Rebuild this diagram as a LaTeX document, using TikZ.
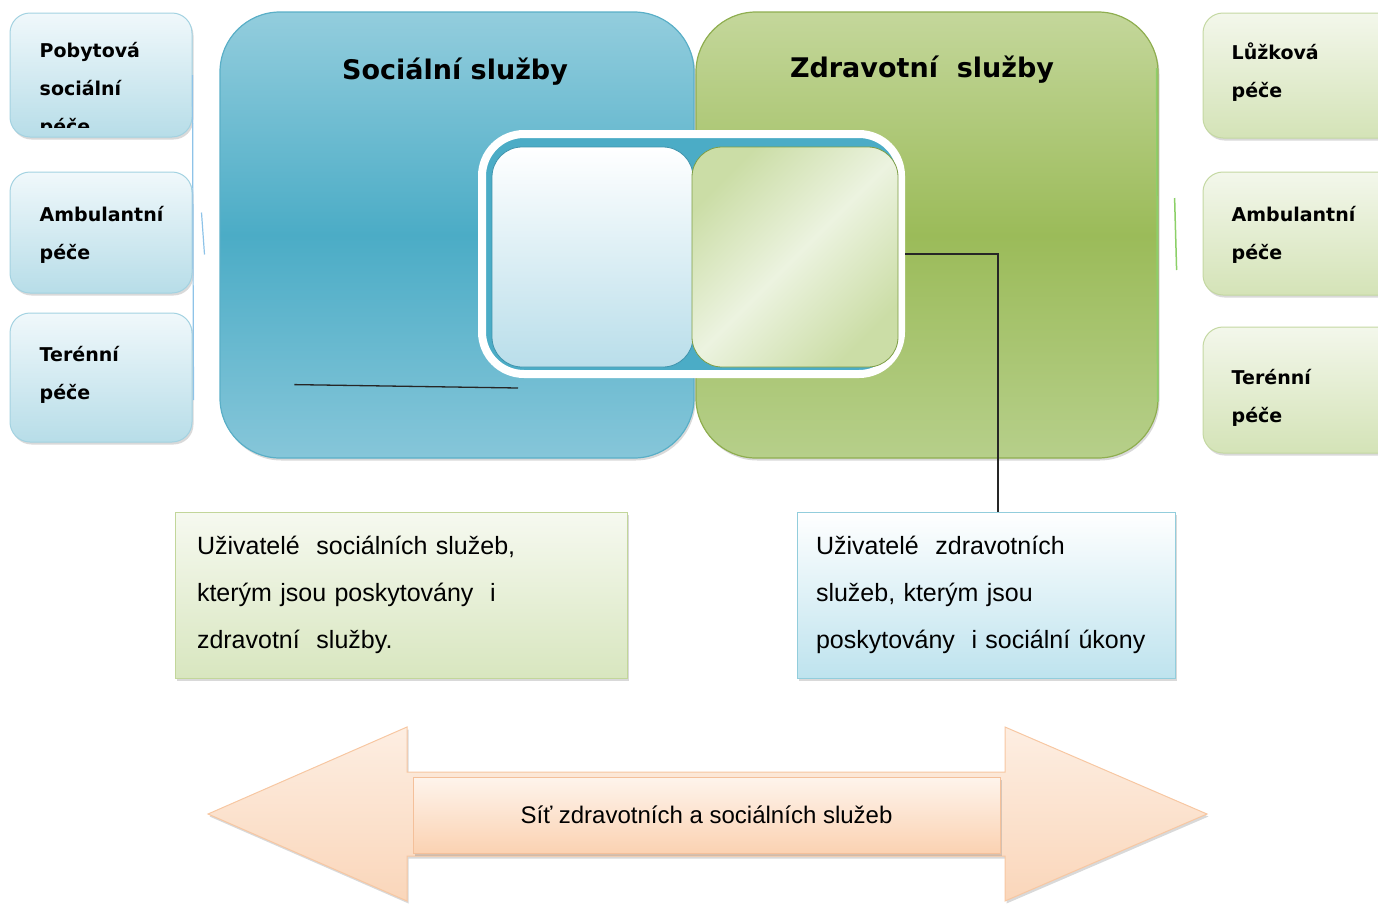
\documentclass[tikz,border=0pt]{standalone}
\usepackage{fontspec}
\setmainfont{Liberation Sans}
\newfontfamily\headfont{DejaVu Sans}
\usepackage{tikz}
\usetikzlibrary{shadows,calc,positioning}
\usepackage{xcolor}
\newcommand{\sidew}{182pt}
\definecolor{soctop}{HTML}{93CDDD}
\definecolor{socblue}{HTML}{4BACC6}
\definecolor{socbot}{HTML}{86C6D9}
\definecolor{socedge}{HTML}{5AAFC7}
\definecolor{zdrtop}{HTML}{C4D79B}
\definecolor{zdrgreen}{HTML}{9BBB59}
\definecolor{zdrbot}{HTML}{B6CF8A}
\definecolor{zdredge}{HTML}{8FAE50}
\definecolor{lsidetop}{HTML}{F0F8FB}
\definecolor{lsidebot}{HTML}{B7DDE8}
\definecolor{lsideedge}{HTML}{A3D2E1}
\definecolor{rsidetop}{HTML}{F3F7EB}
\definecolor{rsidebot}{HTML}{D4E3B7}
\definecolor{rsideedge}{HTML}{C4D8A2}
\definecolor{lintop}{HTML}{FFFFFF}
\definecolor{linbot}{HTML}{B9DEEA}
\definecolor{linedge}{HTML}{3E93AC}
\definecolor{rindark}{HTML}{CBDDA6}
\definecolor{rinlight}{HTML}{ECF3E0}
\definecolor{rinedge}{HTML}{7E9E45}
\definecolor{usrsoctop}{HTML}{F6F9F0}
\definecolor{usrsocbot}{HTML}{D8E6BF}
\definecolor{usrsocedge}{HTML}{C2D69A}
\definecolor{usrzdrbot}{HTML}{BEE3EE}
\definecolor{usrzdredge}{HTML}{92CDDC}
\definecolor{peachtop}{HTML}{FDEEE2}
\definecolor{peachbot}{HTML}{FAD6BA}
\definecolor{peachedge}{HTML}{F7C7A2}
\definecolor{nettop}{HTML}{FEF4EC}
\definecolor{netbot}{HTML}{FBD2B2}
\definecolor{netedge}{HTML}{F4C09A}
\definecolor{tickblue}{HTML}{8EC3E8}
\definecolor{tickgreen}{HTML}{8CD068}
\tikzset{
    shadsty/.style={drop shadow={opacity=0.3,shadow xshift=1.5pt,shadow yshift=-2.5pt}},
    socsty/.style={rectangle,rounded corners=60pt,draw=socedge,line width=1.2pt,minimum width=474pt,minimum height=446pt,shadsty,top color=soctop,bottom color=socbot,middle color=socblue},
    zdrsty/.style={rectangle,rounded corners=60pt,draw=zdredge,line width=1.2pt,minimum width=462pt,minimum height=446pt,shadsty,top color=zdrtop,bottom color=zdrbot,middle color=zdrgreen},
    titlesty/.style={font=\headfont\bfseries\fontsize{27}{32}\selectfont,inner sep=0pt},
    lsidesty/.style={rectangle,rounded corners=20pt,draw=lsideedge,line width=1pt,minimum width=\sidew,shadsty,top color=lsidetop,bottom color=lsidebot},
    rsidesty/.style={rectangle,rounded corners=20pt,draw=rsideedge,line width=1pt,minimum width=200pt,shadsty,top color=rsidetop,bottom color=rsidebot},
    sidetxtsty/.style={anchor=north west,align=left,inner sep=0pt,font=\headfont\bfseries\fontsize{19}{38}\selectfont},
    framesty/.style={rectangle,rounded corners=42pt,draw=white,line width=8pt,fill=socblue,minimum width=419pt,minimum height=240pt,drop shadow={opacity=0.25,shadow xshift=1pt,shadow yshift=-2pt}},
    linsty/.style={rectangle,rounded corners=30pt,draw=linedge,line width=0.8pt,minimum width=201pt,minimum height=220pt,top color=lintop,bottom color=linbot},
    rinsty/.style={rectangle,rounded corners=30pt,draw=rinedge,line width=0.8pt,minimum width=206pt,minimum height=220pt,top color=rindark,bottom color=rindark,middle color=rinlight,shading angle=45},
    usrsty/.style={rectangle,inner sep=0pt,align=left,line width=1pt,minimum height=166pt,font=\fontsize{25}{47}\selectfont,shadsty},
    usrsocsty/.style={usrsty,draw=usrsocedge,minimum width=452pt,text width=408pt,top color=usrsoctop,bottom color=usrsocbot},
    usrzdrsty/.style={usrsty,draw=usrzdredge,minimum width=378pt,text width=340pt,top color=white,bottom color=usrzdrbot},
    arrsty/.style={draw=peachedge,line width=1pt,top color=peachtop,bottom color=peachbot,shadsty},
    netsty/.style={rectangle,draw=netedge,line width=1pt,minimum width=587pt,minimum height=76pt,font=\fontsize{24}{28}\selectfont,top color=nettop,bottom color=netbot,shadsty},
    linksty/.style={draw=black!85,line width=1.3pt},
    lticksty/.style={draw=tickblue,line width=1.2pt},
    rticksty/.style={draw=tickgreen,line width=1.5pt},
}

\begin{document}
\begin{tikzpicture}[x=1pt,y=-1pt]
  \useasboundingbox (0,0) rectangle (1378,908);

  \node[zdrsty] (zdr) at (927,235) {};
  \node[socsty] (soc) at (457,235) {};
  \node[titlesty,anchor=base] (soctit) at ($(soc.north)+(-2,68)$) {Sociální služby};
  \node[titlesty,anchor=base] (zdrtit) at ($(zdr.north)+(-5,66)$) {Zdravotní\ \ služby};

  \node[lsidesty,minimum height=124pt] (pob) at (101,75) {};
  \node[lsidesty,minimum height=121pt] (amb) at (101,232.5) {};
  \node[lsidesty,minimum height=129pt] (ter) at (101,377.5) {};
  \begin{scope}
    \clip (pob.north west) rectangle ([yshift=10pt]pob.south east);
    \node[sidetxtsty] (pobtxt) at ($(pob.north west)+(30,30)$) {Pobytová\\sociální\\péče};
  \end{scope}
  \node[sidetxtsty] (ambtxt) at ($(amb.north west)+(30,35)$) {Ambulantní\\péče};
  \node[sidetxtsty] (tertxt) at ($(ter.north west)+(30,34)$) {Terénní\\péče};

  \node[rsidesty,minimum height=125pt] (luz) at (1303,75.5) {};
  \node[rsidesty,minimum height=123pt] (ramb) at (1303,233.5) {};
  \node[rsidesty,minimum height=126pt] (rter) at (1303,390) {};
  \node[sidetxtsty] (luztxt) at ($(luz.north west)+(29,30)$) {Lůžková\\péče};
  \node[sidetxtsty] (rambtxt) at ($(ramb.north west)+(29,35)$) {Ambulantní\\péče};
  \node[sidetxtsty] (rtertxt) at ($(rter.north west)+(29,43)$) {Terénní\\péče};

  \draw[lticksty] (pob.east) -- ++(1,325);
  \draw[lticksty] ($(amb.east)+(9,-20)$) -- ++(3,42);
  \draw[rticksty] ($(zdr.east)+(-2,-167)$) -- ++(1,334);
  \draw[rticksty] ($(zdr.east)+(16,-37)$) -- ++(2,72);

  \node[framesty] (frame) at (691.5,254) {};
  \node[linsty] (lin) at (592.5,257) {};
  \node[rinsty] (rin) at (795,257) {};

  \coordinate (socA) at ($(soc.south west)+(75,-74)$);
  \coordinate (socB) at ($(frame.south west)+(40,10)$);
  \draw[linksty] (socA) -- (socB);

  \node[usrsocsty] (socusr) at (401,595) {Uživatelé\ \ sociálních služeb,\\kterým jsou poskytovány\ \ i\\zdravotní\ \ služby.};
  \node[usrzdrsty] (zdrusr) at (986,595) {Uživatelé\ \ zdravotních\\služeb, kterým jsou\\poskytovány\ \ i sociální úkony};
  \draw[linksty] (frame.east) -| ([xshift=12pt]zdrusr.north);

  \path[arrsty] (208,814) -- (407,727) -- (407,772) -- (1005,772) -- (1005,727) -- (1207,814)
    -- (1005,901) -- (1005,856) -- (407,856) -- (407,901) -- cycle;
  \node[netsty] (net) at (706.5,815) {Síť zdravotních a sociálních služeb};
\end{tikzpicture}
\end{document}
